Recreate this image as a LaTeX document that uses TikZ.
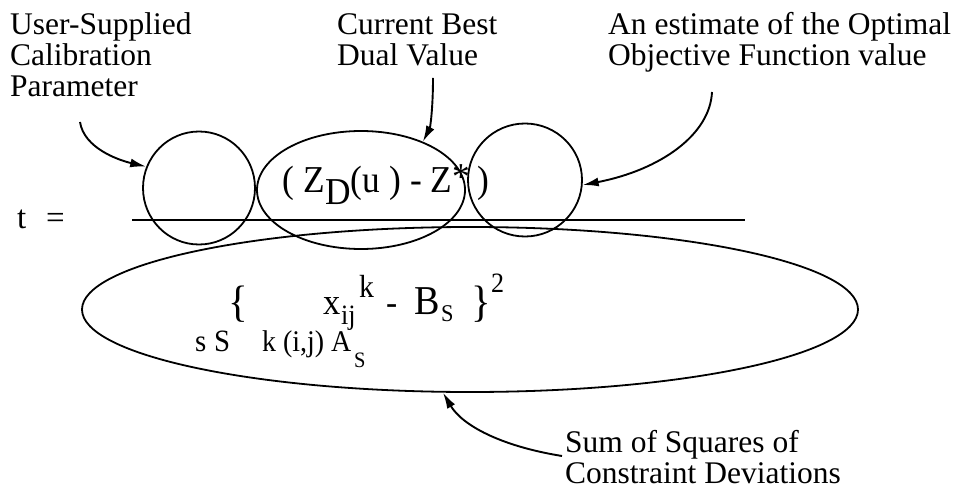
\documentclass[tikz,border=0pt]{standalone}
\usepackage{fontspec}
\setmainfont{Liberation Serif}
\newfontfamily\tallfont[FakeStretch=0.93]{Liberation Serif}
\usetikzlibrary{shapes.geometric,arrows.meta}
\newcommand{\fsz}[1]{\fontsize{#1}{#1}\selectfont}
\newcommand{\fst}[1]{\tallfont\fontsize{#1}{#1}\selectfont}
\begin{document}
\begin{tikzpicture}[x=1pt,y=-1pt,
  txt/.style={inner sep=0pt,anchor=base west},
  lbl/.style={inner sep=0pt,anchor=base west,font=\fontsize{31.5}{31}\selectfont},
  shp/.style={draw,line width=1.8pt,ellipse,inner sep=0pt},
  arr/.style={line width=1.9pt,-{Latex[length=16pt,width=9pt]}}]
\useasboundingbox (0,0) rectangle (957,489);
% shapes
\node[shp,minimum width=112pt,minimum height=113pt] (lc) at (199,188) {};
\node[shp,minimum width=208pt,minimum height=118pt] (me) at (361,190) {};
\node[shp,minimum width=114pt,minimum height=113pt] (rc) at (525,180) {};
\node[shp,minimum width=776pt,minimum height=165pt] (be) at (470,309.5) {};
\coordinate (fl) at (132,220);
\coordinate (fr) at (745,220);
\draw[line width=1.9pt] (fl) -- (fr);
% t =
\node[txt,font=\fsz{33}] (t) at (17,228) {t};
\node[txt,font=\fsz{33}] (eq) at (46,228) {=};
% numerator
\node[txt,font=\fst{38}] (num) at (282,193) {(\hspace{0.25em}Z\raisebox{-12pt}{D}(u\hspace{0.25em}) - Z\raisebox{4pt}{*}\hspace{0.2em})};
% denominator line 1
\node[txt,font=\fst{44}] (lb) at (228,316) {\{};
\node[txt,font=\fst{37}] (x) at (323,314) {x};
\node[txt,font=\fst{28}] (ij) at (341,324) {ij};
\node[txt,font=\fst{32}] (k) at (359,297) {k};
\node[txt,font=\fst{36}] (mi) at (386,314) {-};
\node[txt,font=\fst{41}] (B) at (414,314) {B};
\node[txt,font=\fst{24}] (Bs) at (441,321) {S};
\node[txt,font=\fst{44}] (rb) at (471,316) {\}};
\node[txt,font=\fst{28}] (sq) at (491,292) {2};
% denominator line 2
\node[txt,font=\fst{31}] (s) at (195,351) {s};
\node[txt,font=\fst{31}] (S) at (214,351) {S};
\node[txt,font=\fst{30}] (kij) at (262,351) {k (i,j) A};
\node[txt,font=\fst{22}] (As) at (354,367) {S};
% labels
\node[lbl] (l1) at (10,35) {\vtop{\hbox{User-Supplied}\hbox{Calibration}\hbox{Parameter}}};
\node[lbl] (l2) at (337,35) {\vtop{\hbox{Current Best}\hbox{Dual Value}}};
\node[lbl] (l3) at (608,35) {\vtop{\hbox{An estimate of the Optimal}\hbox{Objective Function value}}};
\node[lbl] (l4) at (565,452) {\vtop{\hbox{Sum of Squares of}\hbox{Constraint Deviations}}};
% arrows
\coordinate (c1) at (80,122);
\coordinate (c2) at (433,78);
\coordinate (c3) at (712,92);
\coordinate (c4) at (562,456);
\draw[arr] (c1) .. controls (84,148) and (118,160) .. (lc.158);
\draw[arr] (c2) .. controls (433,110) and (430,128) .. (me.38);
\draw[arr] (c3) .. controls (710,135) and (660,170) .. (rc.-5);
\draw[arr] (c4) .. controls (500,446) and (462,425) .. (be.252);
\end{tikzpicture}
\end{document}
